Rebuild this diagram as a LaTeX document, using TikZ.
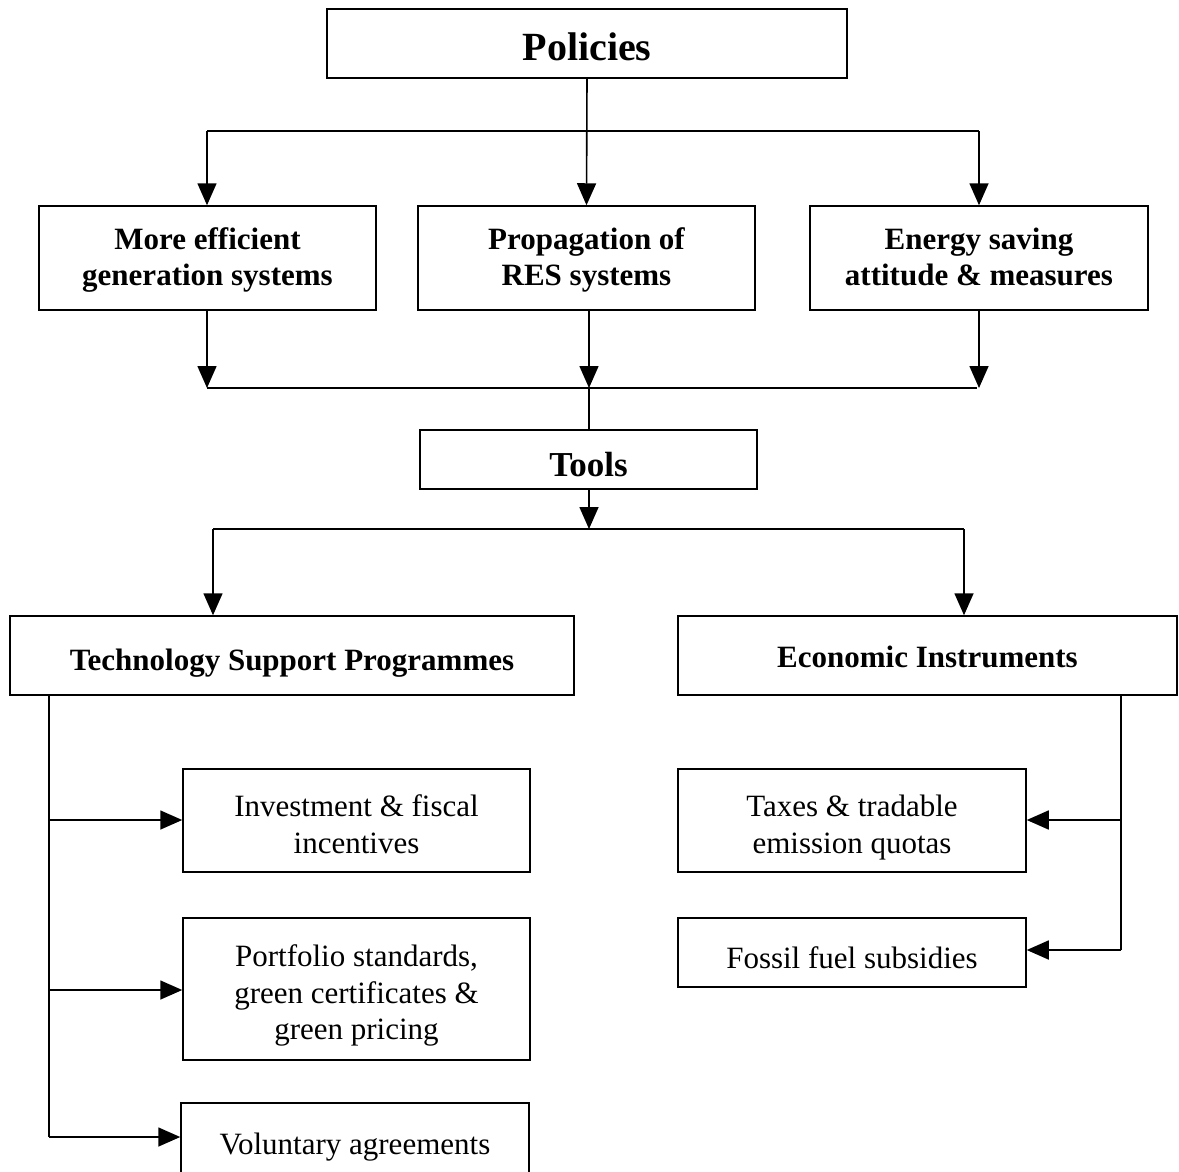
\documentclass[tikz,border=0pt]{standalone}
\usepackage{fontspec}
\setmainfont{Liberation Serif}
\usetikzlibrary{arrows.meta}
\newcommand\tp[1]{\rule{0pt}{#1}}
\newcommand\dn[2]{\raisebox{-#1}[\height][\depth]{#2}}
\tikzset{
  bx/.style={draw, line width=1.5pt, inner sep=0pt, align=center, font=\fontsize{31}{36.5}\selectfont},
  bbx/.style={bx, font=\fontsize{31}{36}\selectfont\bfseries},
  arr/.style={-{Triangle[length=22pt,width=19pt]}},
  ln/.style={line width=1.6pt}
}
\begin{document}
\begin{tikzpicture}[x=1pt,y=-1pt]
\useasboundingbox (0,0) rectangle (1179,1171);
\clip (0,0) rectangle (1179,1171);
\begin{scope}[ln]
\node[bbx, minimum width=520pt, minimum height=69pt, font=\fontsize{40}{44}\selectfont\bfseries] (pol) at (587,43.5) {\dn{3pt}{Policies}};
\node[bbx, minimum width=337pt, minimum height=104pt] (eff) at (207.5,258) {\tp{29pt}More efficient\\generation systems\strut};
\node[bbx, minimum width=337pt, minimum height=104pt] (res) at (586.5,258) {\tp{29pt}Propagation of\\RES systems\strut};
\node[bbx, minimum width=338pt, minimum height=104pt] (ens) at (979,258) {\tp{29pt}Energy saving\\attitude \& measures\strut};
\node[bbx, minimum width=337pt, minimum height=59pt, font=\fontsize{35}{38}\selectfont\bfseries] (tools) at (588.5,459.5) {\dn{5pt}{Tools}};
\node[bbx, minimum width=564pt, minimum height=79pt] (tsp) at (292,655.5) {\dn{8pt}{Technology Support Programmes}};
\node[bbx, minimum width=499pt, minimum height=79pt] (eco) at (927.5,655.5) {\dn{1pt}{Economic Instruments}};
\node[bx, minimum width=347pt, minimum height=103pt] (inv) at (356.5,820.5) {\tp{39.5pt}Investment \& fiscal\\incentives\strut};
\node[bx, minimum width=347pt, minimum height=142pt] (por) at (356.5,989) {\tp{39.5pt}Portfolio standards,\\green certificates \&\\green pricing\strut};
\node[bx, minimum width=348pt, minimum height=94pt, text depth=0pt] (vol) at (355,1150) {\raisebox{12pt}{Voluntary agreements}};
\node[bx, minimum width=348pt, minimum height=103pt] (tax) at (852,820.5) {\tp{39.5pt}Taxes \& tradable\\emission quotas\strut};
\node[bx, minimum width=348pt, minimum height=69pt] (fos) at (852,952.5) {\dn{5pt}{Fossil fuel subsidies}};

% policies to three
\coordinate (t1) at (207,131);
\coordinate (t3) at (979,131);
\draw (t1) -- (t3);
\draw[arr] (pol.south) -- (res.north);
\draw[arr] (t1) -- (t1 |- eff.north);
\draw[arr] (t3) -- (t3 |- ens.north);

% three to tools
\coordinate (m1) at (207,388);
\coordinate (m2) at (589,388);
\coordinate (m3) at (977,388);
\coordinate (e3) at (979,388);
\draw[arr] (m1 |- eff.south) -- (m1);
\draw[arr] (m2 |- res.south) -- (m2);
\draw[arr] (e3 |- ens.south) -- (e3);
\draw (m1) -- (m3);
\draw (m2) -- (m2 |- tools.north);

% tools to two
\coordinate (b1) at (213,529);
\coordinate (b3) at (964,529);
\draw[arr] (m2 |- tools.south) -- (m2 |- b1);
\draw (b1) -- (b3);
\draw[arr] (b1) -- (b1 |- tsp.north);
\draw[arr] (b3) -- (b3 |- eco.north);

% left branch
\coordinate (l0) at (49,695);
\coordinate (l1) at (49,820);
\coordinate (l2) at (49,990);
\coordinate (l3) at (49,1137);
\draw (l0 |- tsp.south) -- (l3);
\draw[arr] (l1) -- (inv.west |- l1);
\draw[arr] (l2) -- (por.west |- l2);
\draw[arr] (l3) -- (vol.west |- l3);

% right branch
\coordinate (r0) at (1121,695);
\coordinate (r1) at (1121,820);
\coordinate (r2) at (1121,950);
\draw (r0 |- eco.south) -- (r2);
\draw[arr] (r1) -- (tax.east |- r1);
\draw[arr] (r2) -- (fos.east |- r2);
\end{scope}
\end{tikzpicture}
\end{document}
